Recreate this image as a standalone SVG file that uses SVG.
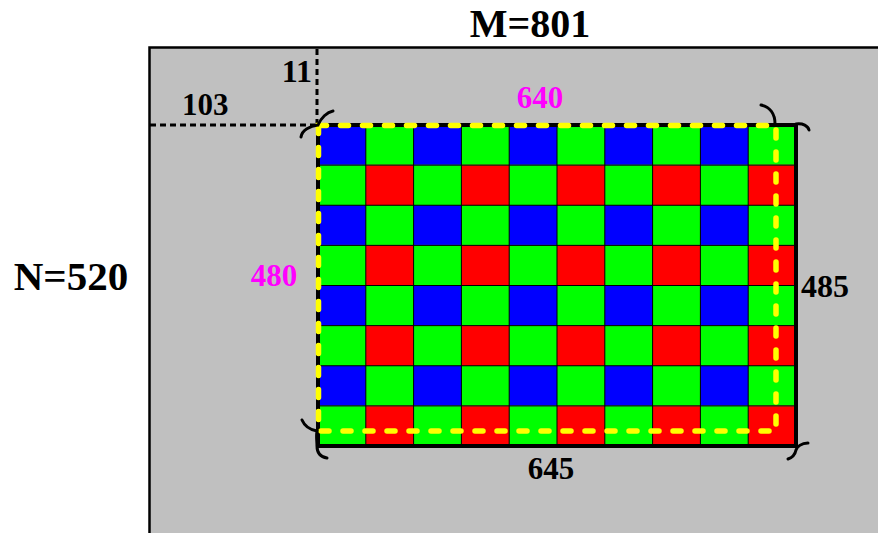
<svg xmlns="http://www.w3.org/2000/svg" width="878" height="533" viewBox="0 0 878 533">
<style>
.t{font-family:"Liberation Serif","Times New Roman",serif;font-weight:bold;fill:#000}
.m{fill:#ff00ff}
.dash{fill:none;stroke:#000;stroke-width:3;stroke-dasharray:6 4}
.br{fill:none;stroke:#000;stroke-width:3;stroke-linecap:round}
</style>
<defs>
<pattern id="bayer" patternUnits="userSpaceOnUse" x="318" y="125" width="95.6" height="80.25">
<rect x="0" y="0" width="47.8" height="40.125" fill="#0000ff"/>
<rect x="47.8" y="0" width="47.8" height="40.125" fill="#00ff00"/>
<rect x="0" y="40.125" width="47.8" height="40.125" fill="#00ff00"/>
<rect x="47.8" y="40.125" width="47.8" height="40.125" fill="#ff0000"/>
</pattern>
</defs>
<rect x="149.5" y="47.5" width="740" height="500" fill="#c0c0c0" stroke="#000" stroke-width="2.5"/>
<path class="dash" d="M150,125 H316 M317,49 V123"/>
<rect x="318" y="125" width="478" height="321" fill="url(#bayer)"/>
<path fill="none" stroke="#000" stroke-width="1" d="M365.8,125V446 M413.6,125V446 M461.4,125V446 M509.2,125V446 M557,125V446 M604.8,125V446 M652.6,125V446 M700.4,125V446 M748.2,125V446 M318,165.125H796 M318,205.25H796 M318,245.375H796 M318,285.5H796 M318,325.625H796 M318,365.75H796 M318,405.875H796"/>
<rect x="318" y="125" width="478" height="321" fill="none" stroke="#000" stroke-width="4"/>
<rect x="318.5" y="125.5" width="457.5" height="305.5" fill="none" stroke="#ffff00" stroke-width="5.5" stroke-linecap="round" stroke-dasharray="8 14"/>
<path class="br" d="M301,137 C302,130 310,126 318,125 C321,118 327,112 333,111"/>
<path class="br" d="M761,105 C770,107 775,114 775,124"/>
<path class="br" d="M796,124 C803,123 808,126 809,130"/>
<path class="br" d="M302,420 C305,427 311,430 317,431 C316,436 317,441 317,446 C317,452 320,457 327,458"/>
<path class="br" d="M808,443 C801,443 797,447 796,450 C795,455 791,458 788,459"/>
<text class="t" x="530" y="37" font-size="40" text-anchor="middle">M=801</text>
<text class="t" x="71" y="290" font-size="41" text-anchor="middle">N=520</text>
<text class="t" x="312" y="82" font-size="32" text-anchor="end">11</text>
<text class="t" x="182" y="115" font-size="31">103</text>
<text class="t m" x="540" y="108" font-size="31" text-anchor="middle">640</text>
<text class="t m" x="274" y="286" font-size="31" text-anchor="middle">480</text>
<text class="t" x="801" y="297" font-size="32">485</text>
<text class="t" x="551" y="479" font-size="31" text-anchor="middle">645</text>
</svg>
